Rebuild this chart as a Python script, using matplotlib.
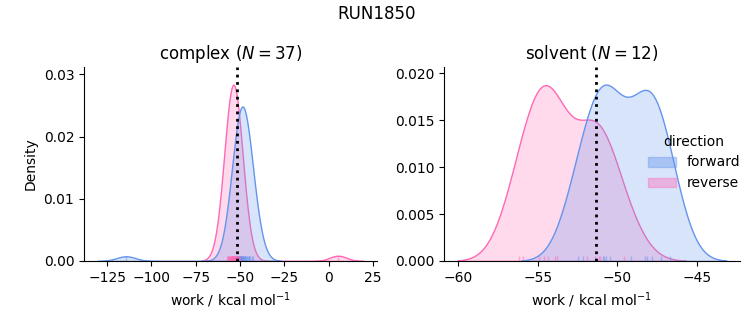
import numpy as np
import pandas as pd
import matplotlib
matplotlib.use('Agg')
import matplotlib.pyplot as plt
import matplotlib.patches as mpatches
import seaborn as sns

# work values (kcal/mol)
complex_forward = [-114.4, -52.0, -51.7, -51.5, -51.3, -51.1, -50.9, -50.7, -50.6, -50.4,
                   -50.2, -50.1, -49.9, -49.8, -49.6, -49.5, -49.3, -49.2, -49.0, -48.8,
                   -48.7, -48.5, -48.3, -48.1, -47.9, -47.7, -47.4, -47.1, -46.8, -46.5,
                   -46.1, -45.7, -45.2, -44.7, -44.1, -43.4, -42.9]
complex_reverse = [-57.4, -56.9, -56.6, -56.3, -56.0, -55.8, -55.6, -55.4, -55.2, -55.0,
                   -54.8, -54.7, -54.5, -54.4, -54.2, -54.1, -54.0, -53.8, -53.7, -53.5,
                   -53.4, -53.2, -53.1, -52.9, -52.8, -52.6, -52.4, -52.2, -52.0, -51.8,
                   -51.6, -51.4, -51.2, -50.9, -50.5, -49.8, 5.4]
solvent_forward = [-52.49, -52.15, -50.9, -50.85, -50.74, -50.47, -49.12, -48.28, -48.16,
                   -47.86, -47.27, -46.69]
solvent_reverse = [-56.15, -55.9, -54.91, -54.6, -54.38, -53.9, -53.79, -51.9, -51.4,
                   -51.17, -51.06, -49.59]
free_energy = {'complex': -51.7, 'solvent': -51.35}

phases = ['complex', 'solvent']
directions = ['forward', 'reverse']
palette = {'forward': 'cornflowerblue', 'reverse': 'hotpink'}

data = {
    'complex': {'forward': complex_forward, 'reverse': complex_reverse},
    'solvent': {'forward': solvent_forward, 'reverse': solvent_reverse},
}

rows = []
for phase in phases:
    for d in directions:
        for w in data[phase][d]:
            rows.append({'work': w, 'direction': d, 'phase': phase})
df = pd.DataFrame(rows)

# one displot so the density is normalised over both phases together
g = sns.displot(data=df, x='work', hue='direction', hue_order=directions, col='phase',
                col_order=phases, kind='kde', fill=True, rug=True, palette=palette,
                legend=False, facet_kws=dict(sharex=False, sharey=False),
                rug_kws=dict(alpha=0.5))
fig = g.figure
fig.set_size_inches(7.53, 3.25)
fig.suptitle('RUN1850', fontsize=12, y=0.985)

axes = g.axes.flat
positions = [[0.1116, 0.197, 0.389, 0.597], [0.5896, 0.197, 0.393, 0.597]]
for ax, phase, pos in zip(axes, phases, positions):
    ax.set_position(pos)
    n = len(data[phase]['forward'])
    ax.axvline(free_energy[phase], color='black', ls=':', lw=2)
    ax.set_title(phase + ' ($N=%d$)' % n, fontsize=12)
    ax.set_xlabel('work / kcal mol$^{-1}$')
    ax.set_ylabel('')

g.axes.flat[0].set_ylabel('Density')
g.axes.flat[0].set_xticks([-125, -100, -75, -50, -25, 0, 25])

handles = [mpatches.Patch(facecolor=palette[d], edgecolor=palette[d], alpha=0.4, label=d)
           for d in directions]
fig.legend(handles=handles, title='direction', loc='center right',
           bbox_to_anchor=(1.0, 0.5), frameon=False)

fig.savefig('out.png', dpi=100)
